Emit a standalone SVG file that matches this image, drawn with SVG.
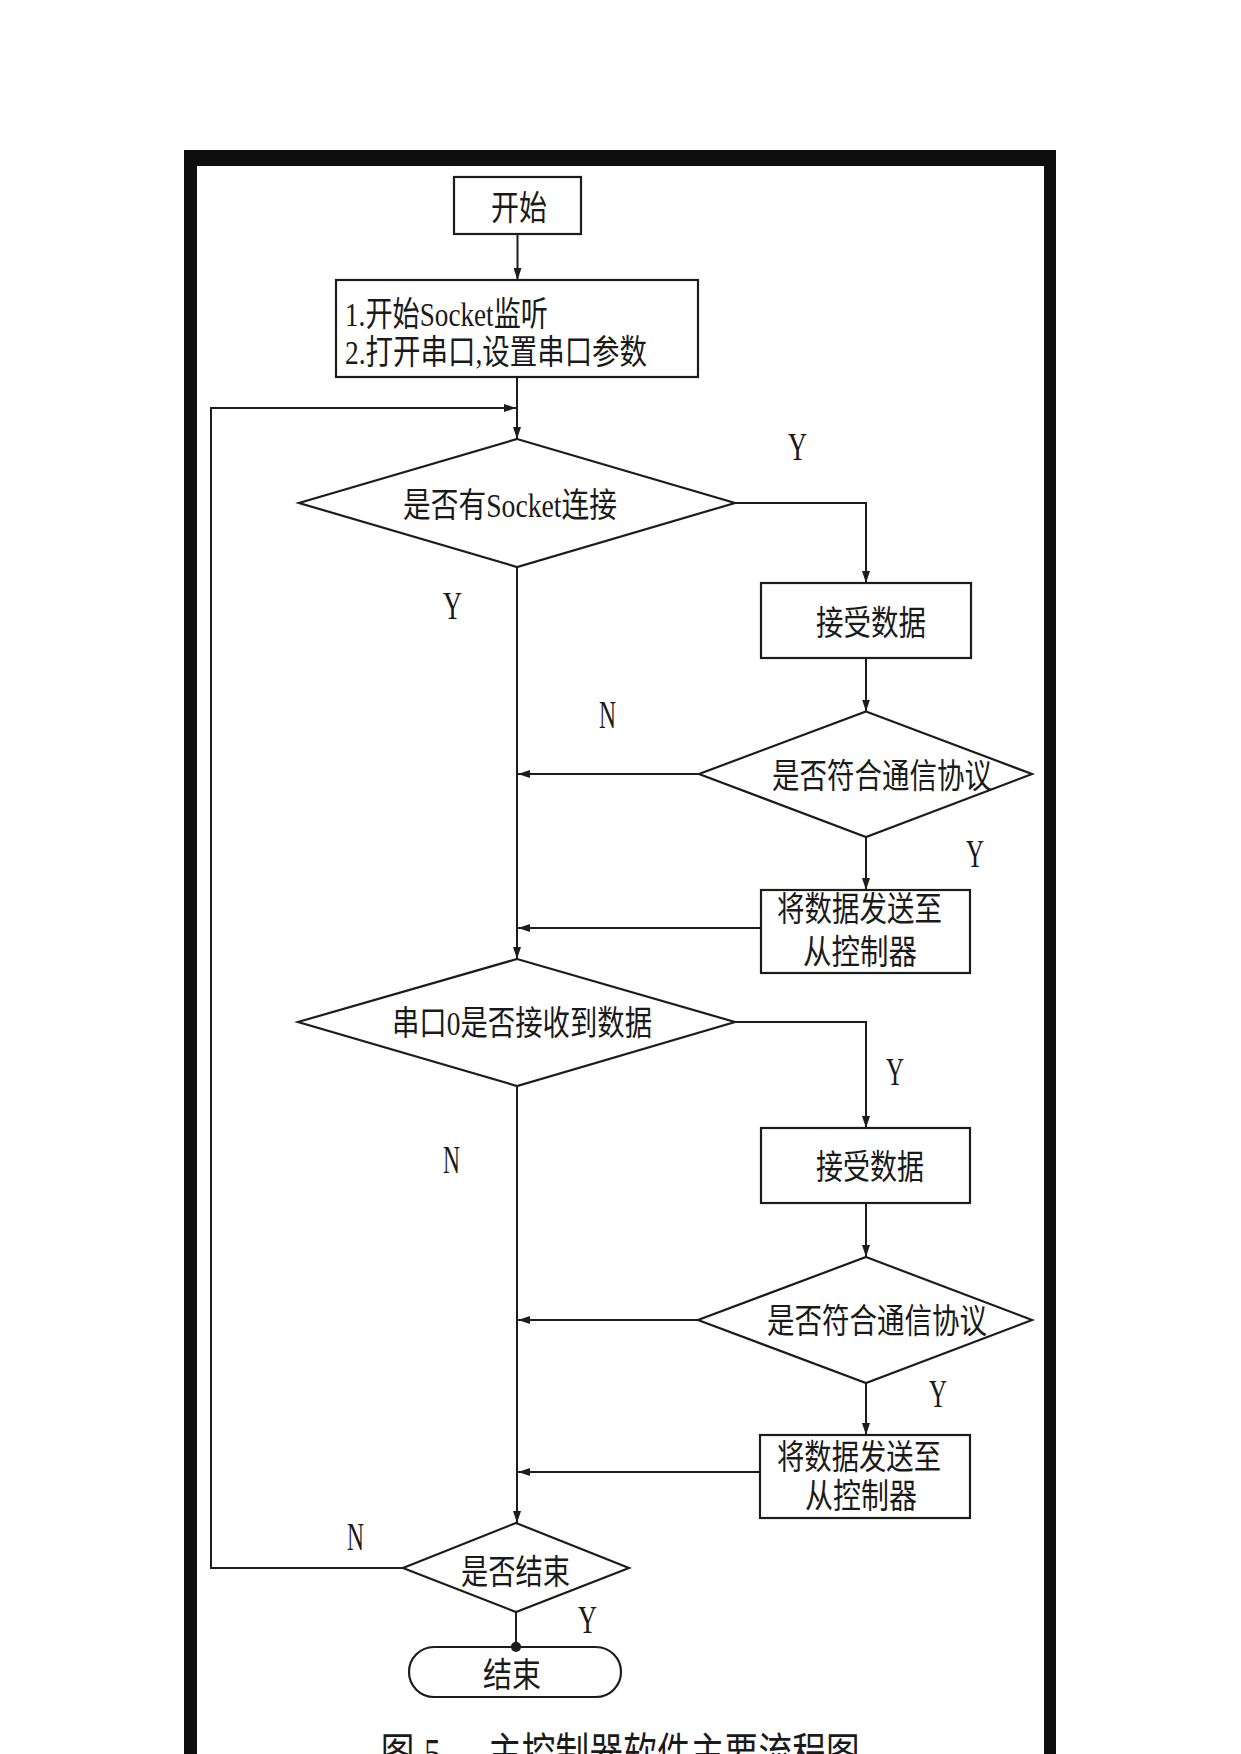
<svg xmlns="http://www.w3.org/2000/svg" width="1241" height="1754" viewBox="0 0 1241 1754">
<style>
.bg{fill:#ffffff}
.frame{fill:#0f0f0f}
.n{fill:#ffffff;stroke:#1c1c1c;stroke-width:2.2}
.c{fill:none;stroke:#1c1c1c;stroke-width:2}
.t{font-family:"Liberation Serif","Noto Sans CJK SC",serif;font-size:34px;fill:#1a1a1a}
.l{font-family:"Liberation Serif","Noto Sans CJK SC",serif;font-size:40px;fill:#1a1a1a}
.cap{font-family:"Liberation Serif","Noto Sans CJK SC",serif;font-size:42px;fill:#1a1a1a}
</style>
<defs>
<marker id="arr" markerUnits="userSpaceOnUse" markerWidth="12" markerHeight="8" refX="12" refY="4" orient="auto">
<path d="M0,0 L12,4 L0,8 z" fill="#1c1c1c"/>
</marker>
</defs>
<rect class="bg" x="0" y="0" width="1241" height="1754"/>
<g id="frame">
<rect class="frame" x="184" y="150" width="872" height="16"/>
<rect class="frame" x="184" y="150" width="13" height="1610"/>
<rect class="frame" x="1044" y="150" width="12" height="1610"/>
</g>
<g id="connectors">
<line class="c" x1="517.5" y1="234" x2="517.5" y2="280" marker-end="url(#arr)"/>
<line class="c" x1="517" y1="377" x2="517" y2="439" marker-end="url(#arr)"/>
<polyline class="c" points="403,1568 211,1568 211,408 516,408" marker-end="url(#arr)"/>
<polyline class="c" points="735,503 866,503 866,583" marker-end="url(#arr)"/>
<line class="c" x1="866" y1="658" x2="866" y2="711.5" marker-end="url(#arr)"/>
<line class="c" x1="699" y1="774" x2="518" y2="774" marker-end="url(#arr)"/>
<line class="c" x1="866" y1="837" x2="866" y2="890" marker-end="url(#arr)"/>
<line class="c" x1="761" y1="928" x2="518" y2="928" marker-end="url(#arr)"/>
<line class="c" x1="517" y1="567" x2="517" y2="959" marker-end="url(#arr)"/>
<polyline class="c" points="735,1022 866,1022 866,1128" marker-end="url(#arr)"/>
<line class="c" x1="866" y1="1203" x2="866" y2="1257" marker-end="url(#arr)"/>
<line class="c" x1="698" y1="1320" x2="518" y2="1320" marker-end="url(#arr)"/>
<line class="c" x1="866" y1="1383" x2="866" y2="1435" marker-end="url(#arr)"/>
<line class="c" x1="760" y1="1472" x2="518" y2="1472" marker-end="url(#arr)"/>
<line class="c" x1="517" y1="1086" x2="517" y2="1523" marker-end="url(#arr)"/>
<line class="c" x1="516" y1="1612" x2="516" y2="1647"/>
<circle cx="516" cy="1647" r="5" fill="#1c1c1c"/>
</g>
<g id="labels">
<text class="l" x="788" y="460" textLength="19" lengthAdjust="spacingAndGlyphs">Y</text>
<text class="l" x="443" y="619" textLength="19" lengthAdjust="spacingAndGlyphs">Y</text>
<text class="l" x="599" y="728" textLength="17" lengthAdjust="spacingAndGlyphs">N</text>
<text class="l" x="966" y="867" textLength="18" lengthAdjust="spacingAndGlyphs">Y</text>
<text class="l" x="886" y="1085" textLength="18" lengthAdjust="spacingAndGlyphs">Y</text>
<text class="l" x="443" y="1173" textLength="17" lengthAdjust="spacingAndGlyphs">N</text>
<text class="l" x="929" y="1407" textLength="18" lengthAdjust="spacingAndGlyphs">Y</text>
<text class="l" x="347" y="1550" textLength="17" lengthAdjust="spacingAndGlyphs">N</text>
<text class="l" x="578" y="1633" textLength="19" lengthAdjust="spacingAndGlyphs">Y</text>
</g>
<g id="start">
<rect class="n" x="454" y="177" width="127" height="57"/>
<text class="t" x="491" y="220" textLength="56" lengthAdjust="spacingAndGlyphs">开始</text>
</g>
<g id="init">
<rect class="n" x="336" y="280" width="362" height="97"/>
<text class="t" x="345" y="326" textLength="203" lengthAdjust="spacingAndGlyphs">1.开始Socket监听</text>
<text class="t" x="345" y="364" textLength="302" lengthAdjust="spacingAndGlyphs">2.打开串口,设置串口参数</text>
</g>
<g id="d_socket">
<polygon class="n" points="517,439 735,503 517,567 299,503"/>
<text class="t" x="403" y="517" textLength="214" lengthAdjust="spacingAndGlyphs">是否有Socket连接</text>
</g>
<g id="recv1">
<rect class="n" x="761" y="583" width="210" height="75"/>
<text class="t" x="816" y="635" textLength="110" lengthAdjust="spacingAndGlyphs">接受数据</text>
</g>
<g id="d_proto1">
<polygon class="n" points="866,711.5 1032,774 866,837 699,774"/>
<text class="t" x="772" y="788" textLength="220" lengthAdjust="spacingAndGlyphs">是否符合通信协议</text>
</g>
<g id="send1">
<rect class="n" x="761" y="890" width="209" height="83"/>
<text class="t" x="777" y="921" textLength="165" lengthAdjust="spacingAndGlyphs">将数据发送至</text>
<text class="t" x="803" y="964" textLength="114" lengthAdjust="spacingAndGlyphs">从控制器</text>
</g>
<g id="d_serial">
<polygon class="n" points="517,959 735,1022 517,1086 298,1022"/>
<text class="t" x="392" y="1035" textLength="260" lengthAdjust="spacingAndGlyphs">串口0是否接收到数据</text>
</g>
<g id="recv2">
<rect class="n" x="761" y="1128" width="209" height="75"/>
<text class="t" x="816" y="1179" textLength="108" lengthAdjust="spacingAndGlyphs">接受数据</text>
</g>
<g id="d_proto2">
<polygon class="n" points="866,1257 1032,1320 866,1383 698,1320"/>
<text class="t" x="767" y="1333" textLength="220" lengthAdjust="spacingAndGlyphs">是否符合通信协议</text>
</g>
<g id="send2">
<rect class="n" x="760" y="1435" width="210" height="83"/>
<text class="t" x="777" y="1469" textLength="164" lengthAdjust="spacingAndGlyphs">将数据发送至</text>
<text class="t" x="805" y="1508" textLength="112" lengthAdjust="spacingAndGlyphs">从控制器</text>
</g>
<g id="d_end">
<polygon class="n" points="516,1523 629,1568 516,1612 403,1568"/>
<text class="t" x="461" y="1584" textLength="109" lengthAdjust="spacingAndGlyphs">是否结束</text>
</g>
<g id="end">
<rect class="n" x="409" y="1647" width="212" height="50" rx="25" ry="25"/>
<circle cx="516" cy="1647" r="5" fill="#1c1c1c"/>
<text class="t" x="483" y="1687" textLength="58" lengthAdjust="spacingAndGlyphs">结束</text>
</g>
<g id="caption">
<text class="cap" transform="scale(0.8 1)" y="1768" x="476 530 610 652.25 694.5 736.75 779 821.25 863.5 905.75 948 990.25 1032.5">图5主控制器软件主要流程图</text>
</g>
</svg>
